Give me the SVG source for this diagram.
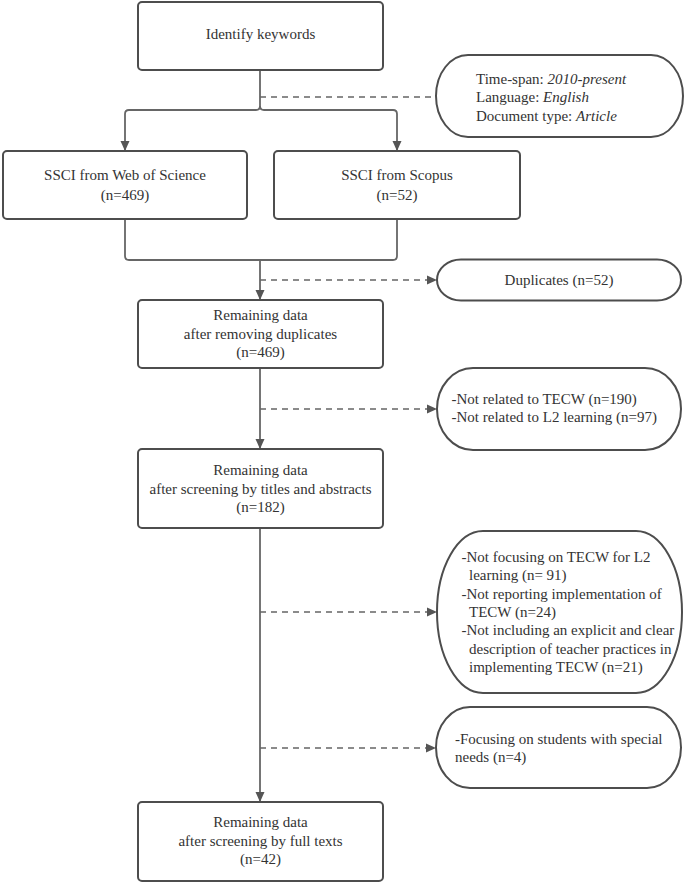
<svg xmlns="http://www.w3.org/2000/svg" width="685" height="884" viewBox="0 0 685 884">
<style>
.box{fill:#fff;stroke:#4d4d4d;stroke-width:2}
.pill{fill:#fff;stroke:#4d4d4d;stroke-width:2}
.ln{fill:none;stroke:#666;stroke-width:1.8}
.dash{fill:none;stroke:#666;stroke-width:1.5;stroke-dasharray:6 5}
text{font-family:"Liberation Serif","Times New Roman",serif;font-size:15px;fill:#333}
.c{text-anchor:middle}
.i{font-style:italic}
</style>
<defs>
<marker id="ah" markerUnits="userSpaceOnUse" markerWidth="10" markerHeight="12" viewBox="0 0 10 12" refX="10" refY="6" orient="auto">
<path d="M0,1.5 L10,6 L0,10.5 Z" fill="#555"/>
</marker>
</defs>
<rect width="685" height="884" fill="#fff"/>
<g id="connectors">
<path class="ln" d="M260,70 V106 Q260,110 256,110 H129 Q125,110 125,114 V151" marker-end="url(#ah)"/>
<path class="ln" d="M260,106 Q260,110 264,110 H393 Q397,110 397,114 V151" marker-end="url(#ah)"/>
<path class="dash" d="M260,97 H436"/>
<path class="ln" d="M125,219 V256 Q125,260 129,260 H393 Q397,260 397,256 V219"/>
<path class="ln" d="M260,260 V300" marker-end="url(#ah)"/>
<path class="dash" d="M260,280 H437" marker-end="url(#ah)"/>
<path class="ln" d="M260,368 V449" marker-end="url(#ah)"/>
<path class="dash" d="M260,409 H437" marker-end="url(#ah)"/>
<path class="ln" d="M260,528 V802" marker-end="url(#ah)"/>
<path class="dash" d="M260,612 H437" marker-end="url(#ah)"/>
<path class="dash" d="M260,748 H436" marker-end="url(#ah)"/>
</g>
<g id="identify">
<rect class="box" x="138" y="2" width="245" height="68" rx="4"/>
<text class="c" x="260.5" y="39">Identify keywords</text>
</g>
<g id="criteria">
<rect class="pill" x="436" y="55" width="247" height="82" rx="32" ry="41"/>
<text x="476" y="83.5">Time-span: <tspan class="i">2010-present</tspan></text>
<text x="476" y="102">Language: <tspan class="i">English</tspan></text>
<text x="476" y="120.5">Document type: <tspan class="i">Article</tspan></text>
</g>
<g id="wos">
<rect class="box" x="3" y="151" width="244" height="68" rx="4"/>
<text class="c" x="125" y="180">SSCI from Web of Science</text>
<text class="c" x="125" y="200">(n=469)</text>
</g>
<g id="scopus">
<rect class="box" x="274" y="151" width="246" height="68" rx="4"/>
<text class="c" x="397" y="180">SSCI from Scopus</text>
<text class="c" x="397" y="200">(n=52)</text>
</g>
<g id="duplicates">
<rect class="pill" x="437" y="259.5" width="244" height="41" rx="24" ry="20.5"/>
<text class="c" x="559" y="284.5">Duplicates (n=52)</text>
</g>
<g id="remaining1">
<rect class="box" x="138" y="300" width="245" height="68" rx="4"/>
<text class="c" x="260.5" y="320">Remaining data</text>
<text class="c" x="260.5" y="338.5">after removing duplicates</text>
<text class="c" x="260.5" y="357">(n=469)</text>
</g>
<g id="excluded1">
<rect class="pill" x="437" y="368" width="244" height="82" rx="36" ry="41"/>
<text x="451.5" y="403.5">-Not related to TECW (n=190)</text>
<text x="451.5" y="421.5">-Not related to L2 learning (n=97)</text>
</g>
<g id="remaining2">
<rect class="box" x="138" y="449" width="245" height="79" rx="4"/>
<text class="c" x="260.5" y="475">Remaining data</text>
<text class="c" x="260.5" y="493.5">after screening by titles and abstracts</text>
<text class="c" x="260.5" y="512">(n=182)</text>
</g>
<g id="excluded2">
<rect class="pill" x="437" y="531" width="245" height="162" rx="46" ry="81"/>
<text x="461.5" y="561.5">-Not focusing on TECW for L2</text>
<text x="469" y="580">learning (n= 91)</text>
<text x="461.5" y="598.5">-Not reporting implementation of</text>
<text x="469" y="617">TECW (n=24)</text>
<text x="461.5" y="635">-Not including an explicit and clear</text>
<text x="469" y="653.5">description of teacher practices in</text>
<text x="469" y="671.5">implementing TECW (n=21)</text>
</g>
<g id="excluded3">
<rect class="pill" x="436" y="707" width="245" height="81" rx="34" ry="40.5"/>
<text x="455" y="743.5">-Focusing on students with special</text>
<text x="455" y="762">needs (n=4)</text>
</g>
<g id="remaining3">
<rect class="box" x="138" y="802" width="245" height="79" rx="4"/>
<text class="c" x="260.5" y="827">Remaining data</text>
<text class="c" x="260.5" y="845.5">after screening by full texts</text>
<text class="c" x="260.5" y="864">(n=42)</text>
</g>
</svg>
